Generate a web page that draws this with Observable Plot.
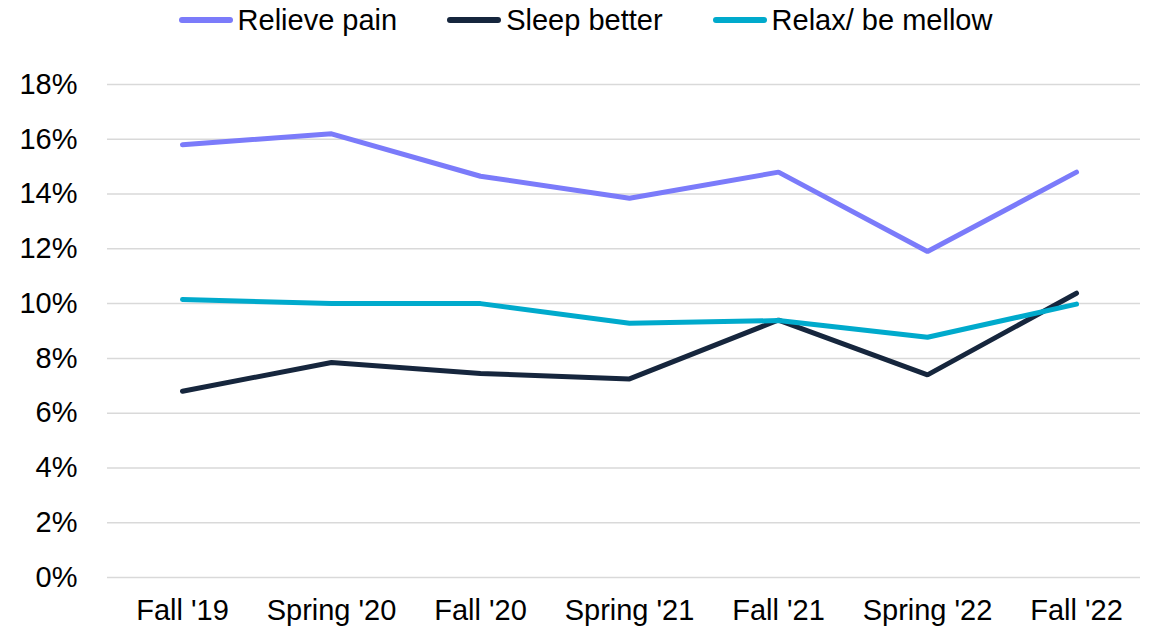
<!DOCTYPE html>
<html>
<head>
<meta charset="utf-8">
<script src="https://cdn.jsdelivr.net/npm/d3@7"></script>
<script src="https://cdn.jsdelivr.net/npm/@observablehq/plot@0.6"></script>
<style>
  html, body { margin: 0; padding: 0; background: #fff; }
  body { width: 1153px; height: 633px; overflow: hidden; font-family: "Liberation Sans", Arial, sans-serif; }
  #legend { height: 40px; display: flex; justify-content: center; align-items: center; font-size: 29px; color: #000; padding-left: 18px; }
  .item { display: flex; align-items: center; margin: 0 25px; }
  .sw { width: 54px; height: 6px; border-radius: 3px; margin-right: 5px; }
  #chart svg { display: block; }
</style>
</head>
<body>
<div id="legend"></div>
<div id="chart"></div>
<script>
const periods = ["Fall '19", "Spring '20", "Fall '20", "Spring '21", "Fall '21", "Spring '22", "Fall '22"];
const seriesNames = ["Relieve pain", "Sleep better", "Relax/ be mellow"];
const seriesColors = ["#7b7bfa", "#16263d", "#00aacc"];
const relievePain = [15.8, 16.2, 14.65, 13.85, 14.8, 11.9, 14.8];
const sleepBetter = [6.8, 7.85, 7.45, 7.25, 9.4, 7.4, 10.38];
const relaxMellow = [10.15, 10.0, 10.0, 9.28, 9.38, 8.77, 9.98];
const yTicks = [0, 2, 4, 6, 8, 10, 12, 14, 16, 18];

const valuesBySeries = [relievePain, sleepBetter, relaxMellow];
const data = [];
seriesNames.forEach((s, i) => periods.forEach((p, j) => data.push({series: s, period: p, value: valuesBySeries[i][j]})));

const legend = document.getElementById("legend");
seriesNames.forEach((s, i) => {
  const it = document.createElement("div");
  it.className = "item";
  it.innerHTML = `<span class="sw" style="background:${seriesColors[i]}"></span><span>${s}</span>`;
  legend.appendChild(it);
});

const chart = Plot.plot({
  width: 1153,
  height: 593,
  marginTop: 44,
  marginBottom: 56,
  marginLeft: 107,
  marginRight: 2,
  style: {fontFamily: '"Liberation Sans", Arial, sans-serif', fontSize: "29px", color: "#000", background: "#fff"},
  x: {type: "point", domain: periods, padding: 0.5, label: null, tickSize: 0, tickPadding: 22},
  y: {domain: [0, 18], ticks: yTicks, label: null, tickSize: 0, tickPadding: 30, tickFormat: d => d + "%"},
  color: {domain: seriesNames, range: seriesColors},
  marks: [
    Plot.ruleY(yTicks, {stroke: "#d9d9d9", strokeWidth: 1.5, insetRight: 11}),
    Plot.line(data, {x: "period", y: "value", z: "series", stroke: "series", strokeWidth: 5, strokeLinejoin: "miter", strokeLinecap: "round"})
  ]
});
document.getElementById("chart").appendChild(chart);
</script>
</body>
</html>
